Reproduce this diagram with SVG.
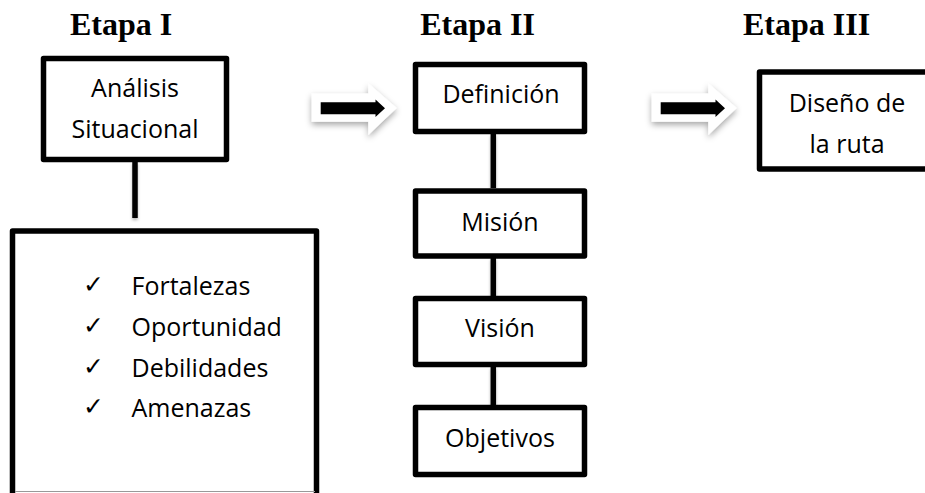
<svg xmlns="http://www.w3.org/2000/svg" width="925" height="493" viewBox="0 0 925 493">
<style>
.box{fill:#fff;stroke:#000;stroke-width:5.5;stroke-linejoin:round}
.t{font-family:"Open Sans","Noto Sans","DejaVu Sans",sans-serif;font-size:25px;fill:#000;text-anchor:middle}
.l{font-family:"Open Sans","Noto Sans","DejaVu Sans",sans-serif;font-size:25px;fill:#000}
.chk{font-family:"DejaVu Sans",sans-serif;font-size:25px;font-weight:bold;fill:#000}
.h{font-family:"Liberation Serif","Times New Roman",serif;font-weight:bold;font-size:32px;fill:#000;text-anchor:middle}
.ln{stroke:#000;stroke-width:5.5;fill:none}
.wa{fill:#fff}
</style>
<defs>
<filter id="sh" x="-30%" y="-40%" width="160%" height="190%">
<feDropShadow dx="0" dy="3" stdDeviation="3" flood-color="#000" flood-opacity="0.35"/>
</filter>
<filter id="lsh" filterUnits="userSpaceOnUse" x="0" y="0" width="925" height="493">
<feDropShadow dx="0" dy="2" stdDeviation="1.5" flood-color="#000" flood-opacity="0.3"/>
</filter>
<g id="arrowShape">
<polygon class="wa" points="311.7,93.5 368.3,93.5 368.3,83.3 396.7,108 368.3,135 368.3,121.7 311.7,121.7" filter="url(#sh)"/>
<polygon fill="#000" points="320.7,102.3 375.5,102.3 375.5,99.5 385,108.3 375.5,117 375.5,114.3 320.7,114.3"/>
</g>
</defs>
<g id="headings">
<text class="h" x="121" y="35">Etapa I</text>
<text class="h" x="477.5" y="35">Etapa II</text>
<text class="h" x="806.5" y="35">Etapa III</text>
</g>
<g id="connectors">
<line class="ln" x1="135" y1="162" x2="135" y2="218" filter="url(#lsh)"/>
<line class="ln" x1="493.3" y1="134" x2="493.3" y2="188" filter="url(#lsh)"/>
<line class="ln" x1="493.3" y1="258" x2="493.3" y2="296" filter="url(#lsh)"/>
<line class="ln" x1="493.3" y1="367" x2="493.3" y2="405" filter="url(#lsh)"/>
<use href="#arrowShape"/>
<use href="#arrowShape" transform="translate(340,0)"/>
</g>
<g id="analisis">
<rect class="box" x="43.5" y="58.5" width="183" height="101"/>
<text class="t" x="135" y="97">Análisis</text>
<text class="t" x="135" y="138">Situacional</text>
</g>
<g id="foda">
<rect class="box" x="12.5" y="231" width="304" height="275"/>
<line x1="15" y1="491.5" x2="315" y2="491.5" stroke="#999" stroke-width="1"/>
<text class="chk" x="83" y="293">✓</text>
<text class="l" x="131.5" y="295">Fortalezas</text>
<text class="chk" x="83" y="334">✓</text>
<text class="l" x="131.5" y="336">Oportunidad</text>
<text class="chk" x="83" y="374.5">✓</text>
<text class="l" x="131.5" y="376.5">Debilidades</text>
<text class="chk" x="83" y="415">✓</text>
<text class="l" x="131.5" y="417">Amenazas</text>
</g>
<g id="definicion">
<rect class="box" x="415.5" y="64.5" width="169" height="67"/>
<text class="t" x="501" y="103">Definición</text>
</g>
<g id="mision">
<rect class="box" x="415.5" y="191" width="169" height="65"/>
<text class="t" x="500" y="230.5">Misión</text>
</g>
<g id="vision">
<rect class="box" x="415.5" y="298.5" width="169" height="66"/>
<text class="t" x="500" y="336.5">Visión</text>
</g>
<g id="objetivos">
<rect class="box" x="415.5" y="407.5" width="169" height="67"/>
<text class="t" x="500" y="446.5">Objetivos</text>
</g>
<g id="diseno">
<rect class="box" x="759.5" y="72" width="200" height="97"/>
<text class="t" x="847" y="111.5">Diseño de</text>
<text class="t" x="847" y="153">la ruta</text>
</g>
</svg>
